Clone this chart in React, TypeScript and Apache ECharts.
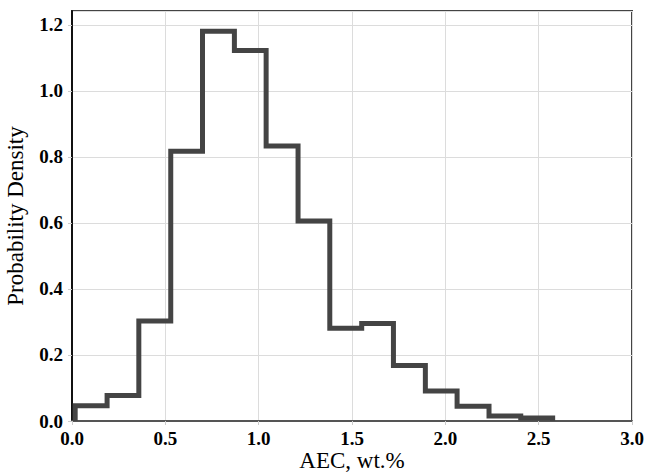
import React, { useEffect, useRef } from "react";
import * as echarts from "echarts";

const binEdges = [0.017, 0.188, 0.358, 0.529, 0.699, 0.870, 1.040, 1.211, 1.381, 1.552, 1.722, 1.893, 2.063, 2.234, 2.404, 2.575];
const densities = [0.046, 0.077, 0.303, 0.817, 1.181, 1.122, 0.833, 0.606, 0.281, 0.295, 0.168, 0.091, 0.045, 0.015, 0.009];
const xTicks = [0, 0.5, 1.0, 1.5, 2.0, 2.5, 3.0];
const yTicks = [0, 0.2, 0.4, 0.6, 0.8, 1.0, 1.2];
const xLabel = "AEC, wt.%";
const yLabel = "Probability Density";

export default function App() {
  const ref = useRef<HTMLDivElement>(null);
  useEffect(() => {
    if (!ref.current) return;
    const chart = echarts.init(ref.current, null, { renderer: "svg" });
    const pts: number[][] = [[binEdges[0], 0]];
    densities.forEach((h, i) => {
      pts.push([binEdges[i], h]);
      pts.push([binEdges[i + 1], h]);
    });
    pts.push([binEdges[binEdges.length - 1], 0]);
    const font = "'Liberation Serif', 'Times New Roman', Times, serif";
    chart.setOption({
      animation: false,
      backgroundColor: "#ffffff",
      grid: {
        left: 72,
        right: 14,
        top: 11,
        bottom: 53,
        containLabel: false,
        outerBoundsMode: "none",
        show: true,
        borderColor: "#444",
        borderWidth: 2,
        backgroundColor: "transparent",
      },
      xAxis: {
        type: "value",
        min: xTicks[0],
        max: xTicks[xTicks.length - 1],
        interval: 0.5,
        name: xLabel,
        nameLocation: "middle",
        nameGap: 28,
        nameMoveOverlap: false,
        nameTextStyle: { fontFamily: font, fontSize: 23, color: "#000" },
        axisLine: { show: true, lineStyle: { color: "#555", width: 2 } },
        axisTick: { show: true, length: 4, lineStyle: { color: "#ccc" } },
        axisLabel: {
          fontFamily: font,
          fontSize: 19,
          fontWeight: 700,
          color: "#000",
          margin: 8,
          formatter: (v: number) => v.toFixed(1),
        },
        splitLine: { show: true, lineStyle: { color: "#dcdcdc", width: 1 } },
      },
      yAxis: {
        type: "value",
        min: 0,
        max: 1.242,
        interval: 0.2,
        name: yLabel,
        nameLocation: "middle",
        nameGap: 45,
        nameMoveOverlap: false,
        nameTextStyle: { fontFamily: font, fontSize: 23, color: "#000" },
        axisLine: { show: true, lineStyle: { color: "#111", width: 2 } },
        axisTick: { show: true, length: 4, lineStyle: { color: "#ccc" } },
        axisLabel: {
          fontFamily: font,
          fontSize: 19,
          fontWeight: 700,
          color: "#000",
          margin: 9,
          showMaxLabel: false,
          formatter: (v: number) => (yTicks.some((t) => Math.abs(t - v) < 1e-6) ? v.toFixed(1) : ""),
        },
        splitLine: { show: true, lineStyle: { color: "#dcdcdc", width: 1 } },
      },
      series: [
        {
          type: "line",
          data: pts,
          symbol: "none",
          lineStyle: { color: "#444", width: 5, join: "miter", cap: "butt" },
          z: 5,
        },
      ],
    });
    return () => chart.dispose();
  }, []);
  return (
    <div
      ref={ref}
      style={{ position: "fixed", left: 0, top: 0, width: 646, height: 474, background: "#fff" }}
    />
  );
}
